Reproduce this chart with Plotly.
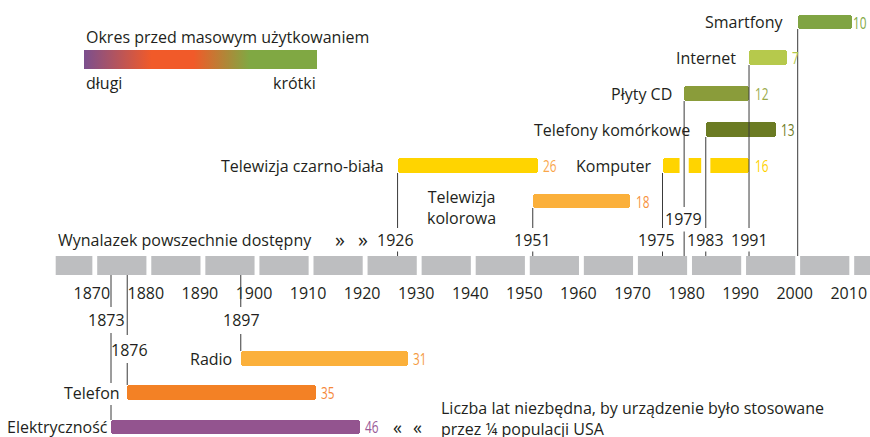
import plotly.graph_objects as go

# ---------------- data ----------------
names = ["Elektryczność", "Telefon", "Radio", "Telewizja czarno-biała",
         "Telewizja<br>kolorowa", "Komputer", "Telefony komórkowe",
         "Płyty CD", "Internet", "Smartfony"]
start_years = [1873, 1876, 1897, 1926, 1951, 1975, 1983, 1979, 1991, 2000]
years_to_quarter = [46, 35, 31, 26, 18, 16, 13, 12, 7, 10]
tick_years = list(range(1870, 2020, 10))
decades = list(range(1860, 2020, 10))

# ---------------- styling ----------------
W, H = 870, 437
PX0, YR0, PXY = 111.0, 1873, 5.407          # pixel of 1873, px per year
X0 = YR0 - PX0 / PXY
X1 = YR0 + (W - PX0) / PXY

def yr(px):
    return YR0 + (px - PX0) / PXY

row_y = [427, 392.5, 358.5, 165.5, 201, 165.5, 129.5, 93.5, 57.5, 22]
bar_colors = ["#93548F", "#F38125", "#FBB03B", "#FFD400", "#FBB03B",
              "#FFD400", "#6B7B23", "#8A9C3A", "#B6C94C", "#80A443"]
value_colors = ["#9A5A98", "#F5873A", "#F59A3E", "#F9A64A", "#F7923E",
                "#FFD200", "#6E7B24", "#9AAA4A", "#B3C74A", "#7FA842"]
name_gap = [1, 5, 7, 12, 35, 9, 14, 10, 11, 12]
value_gap = [3, 3, 2.5, 3, 4, 4, 3, 4, 3, -1]
TXT = "#231F20"
FONT = "Open Sans, Noto Sans, sans-serif"
LINE = "#3A3A3A"
GRAY = "#BDBEC0"
BAR_W = 14.5
INSET = 1.0   # years; two overlapping bars give rounded corners at both ends

fig = go.Figure()

ends = [s + d for s, d in zip(start_years, years_to_quarter)]
# bar growing leftwards from (end - INSET) to start: rounded at the start
fig.add_trace(go.Bar(
    orientation="h", y=row_y, base=[e - INSET for e in ends],
    x=[-(d - INSET) for d in years_to_quarter],
    width=BAR_W, marker=dict(color=bar_colors, cornerradius=3, line=dict(width=0)),
    hoverinfo="skip", showlegend=False))
# bar growing rightwards from (start + INSET) to end: rounded at the end
fig.add_trace(go.Bar(
    orientation="h", y=row_y, base=[s + INSET for s in start_years],
    x=[d - INSET for d in years_to_quarter],
    width=BAR_W, marker=dict(color=bar_colors, cornerradius=3, line=dict(width=0)),
    hoverinfo="skip", showlegend=False))

# gradient legend as colorbar
fig.add_trace(go.Scatter(
    x=[None], y=[None], mode="markers", showlegend=False, hoverinfo="skip",
    marker=dict(color=[0], cmin=0, cmax=1, showscale=True,
                colorscale=[[0, "#7B4F8E"], [0.29, "#F15A29"], [0.47, "#F15A29"],
                            [0.71, "#80A843"], [1, "#80A843"]],
                colorbar=dict(orientation="h", x=84 / W, xanchor="left",
                              y=1 - 49.5 / H, yanchor="top", len=233,
                              lenmode="pixels", thickness=19,
                              thicknessmode="pixels", outlinewidth=0,
                              showticklabels=False, ticks="", xpad=0, ypad=0))))

shapes = []
# gray timeline segments
for d in decades:
    a = max(d + 0.45, yr(55.7))
    b = d + 9.55
    shapes.append(dict(type="rect", xref="x", yref="y", x0=a, x1=b, y0=256, y1=275,
                       fillcolor=GRAY, line=dict(width=0), layer="below"))

# white gaps in the computer bar where the 1979 and 1983 lines pass
for y_ in (start_years[7], start_years[6]):
    shapes.append(dict(type="rect", xref="x", yref="y", x0=y_ - 0.85, x1=y_ + 0.85,
                       y0=157, y1=175, fillcolor="white", line=dict(width=0)))

# connector line segments (pixel y ranges)
segments = {
    0: [(275, 307), (333, 383), (405, 420)],
    1: [(275, 335), (363, 385)],
    2: [(275, 307), (334, 351)],
    3: [(173, 228), (251.5, 256)],
    4: [(208, 228), (251.5, 256)],
    5: [(173, 228), (251.5, 256)],
    6: [(137, 228), (251.5, 256)],
    7: [(101, 207), (231.5, 256)],
    8: [(65, 228), (251.5, 256)],
    9: [(29, 256)],
}
for i, segs in segments.items():
    for (a, b) in segs:
        shapes.append(dict(type="line", xref="x", yref="y", x0=start_years[i],
                           x1=start_years[i], y0=a, y1=b,
                           line=dict(color=LINE, width=1)))

ann = []
# name labels
for i, n in enumerate(names):
    ann.append(dict(x=start_years[i], y=row_y[i] if i != 4 else 207.5, xref="x", yref="y",
                    text=n, showarrow=False, xanchor="right", yanchor="middle",
                    xshift=-name_gap[i], align="center",
                    font=dict(family=FONT, size=16, color=TXT)))
# value labels
VAL_START = len(ann)
for i, v in enumerate(years_to_quarter):
    ann.append(dict(x=ends[i], y=min(row_y[i] + 0.5, 426.5), xref="x", yref="y",
                    text=str(v), showarrow=False, xanchor="left", yanchor="middle",
                    xshift=value_gap[i],
                    font=dict(family=FONT, size=16, color=value_colors[i])))
VAL_END = len(ann)
# year labels next to connector lines
year_lab = {0: (320, -5), 1: (349.5, 2), 2: (320, 0.5), 3: (240, -2), 4: (240, 0),
            5: (240, -6), 6: (240, 0), 7: (219, -1), 8: (240, 0)}
for i, (yy, sh) in year_lab.items():
    ann.append(dict(x=start_years[i], y=yy, xref="x", yref="y", text=str(start_years[i]),
                    showarrow=False, xanchor="center", yanchor="middle", xshift=sh,
                    font=dict(family=FONT, size=16, color=TXT)))

def txt(x, y, t, xa="left", size=16, align="left"):
    ann.append(dict(x=x / W, y=y, xref="paper", yref="y", text=t, showarrow=False,
                    xanchor=xa, yanchor="middle", align=align,
                    font=dict(family=FONT, size=size, color=TXT)))

txt(56, 240, "Wynalazek powszechnie dostępny")
txt(339.5, 239, "»", xa="center", size=20)
txt(362.5, 239, "»", xa="center", size=20)
txt(397, 426.5, "«", xa="center", size=18)
txt(417, 426.5, "«", xa="center", size=18)
txt(439, 418, "Liczba lat niezbędna, by urządzenie było stosowane<br>przez ¼ populacji USA")
txt(84, 37, "Okres przed masowym użytkowaniem")
txt(84, 83, "długi")
txt(318, 83, "krótki", xa="right")

fig.update_layout(
    width=W, height=H, margin=dict(l=0, r=0, t=0, b=0),
    paper_bgcolor="white", plot_bgcolor="white",
    shapes=shapes, annotations=ann, bargap=0, barmode="overlay",
    xaxis=dict(range=[X0, X1], domain=[0, 1], anchor="free", position=1 - 275 / H,
               side="bottom", tickvals=tick_years, ticktext=[str(t) for t in tick_years],
               ticks="", showline=False, showgrid=False, zeroline=False,
               ticklabelstandoff=7, ticklabelshift=-3,
               tickfont=dict(family=FONT, size=16, color=TXT), fixedrange=True),
    yaxis=dict(range=[H, 0], domain=[0, 1], visible=False, fixedrange=True),
)

post = (
    "document.body.style.margin='0';"
    "document.body.style.overflow='hidden';"
    "for(var i=%d;i<%d;i++){"
    "var t=document.querySelector('g.annotation[data-index=\"'+i+'\"] text');"
    "if(t){t.style.transformBox='fill-box';t.style.transformOrigin='left center';"
    "t.style.transform='scaleX(0.74)';}}" % (VAL_START, VAL_END)
)

fig.write_html("out.html", config={"displayModeBar": False}, post_script=post)
